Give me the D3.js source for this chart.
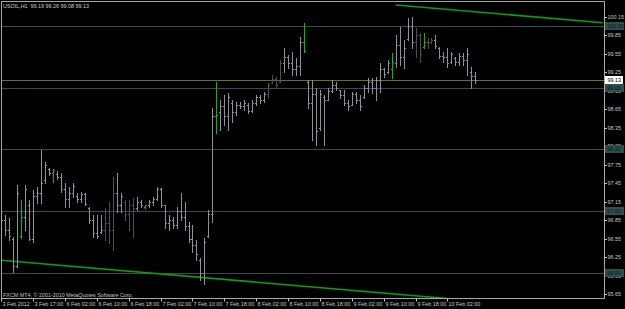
<!DOCTYPE html>
<html>
<head>
<meta charset="utf-8">
<script src="https://cdn.jsdelivr.net/npm/d3@7"></script>
<style>
  html, body { margin: 0; padding: 0; background: #000; }
  svg { display: block; }
  text { font-family: "Liberation Sans", Arial, sans-serif; font-size: 5.4px; white-space: pre; }
</style>
</head>
<body>
<svg id="chart"></svg>
<script>
var d3 = globalThis.d3;

// USOIL H1 bars, 3 Feb 2012 09:00 .. 10 Feb 2012 09:00
const header = "USOIL,H1  99.19 99.26 99.08 99.13";
const copyright = "FXCM MT4, \u00a9 2001-2010 MetaQuotes Software Corp.";

const opens = [96.60,96.85,96.70,96.55,96.10,96.60,96.90,97.10,96.55,97.25,97.30,97.50,97.68,97.62,97.60,97.55,97.35,97.20,97.30,97.25,
  97.20,97.28,97.05,96.85,96.65,96.66,96.70,96.80,96.70,97.30,97.10,97.15,96.95,97.10,97.05,97.15,97.07,97.09,97.15,97.20,
  97.35,97.10,96.80,96.85,96.78,97.00,96.90,96.75,96.55,96.45,96.20,96.00,96.60,96.95,98.55,98.60,98.70,98.55,98.75,98.60,
  98.72,98.70,98.72,98.62,98.76,98.85,98.80,98.90,99.08,99.15,99.10,99.40,99.50,99.40,99.30,99.35,99.75,99.10,98.75,98.90,
  98.35,98.85,98.80,98.95,99.05,98.97,98.88,98.75,98.72,98.90,98.80,98.85,99.00,99.10,99.00,99.12,99.30,99.26,99.30,99.40,
  99.70,99.50,99.80,100.00,99.75,99.85,99.66,99.75,99.75,99.78,99.65,99.52,99.50,99.42,99.48,99.42,99.52,99.45,99.25,99.19];
const highs = [96.97,96.94,96.89,96.58,97.42,97.18,97.42,97.18,97.34,97.39,97.99,97.80,97.70,97.68,97.65,97.62,97.46,97.39,97.46,97.29,
  97.31,97.29,97.07,96.94,96.94,96.94,97.05,97.15,97.55,97.62,97.29,97.18,97.18,97.21,97.23,97.18,97.10,97.18,97.23,97.39,
  97.38,97.10,96.94,96.90,97.07,97.29,97.15,96.82,96.77,96.53,96.24,96.56,97.02,98.67,99.09,98.80,98.88,98.92,98.80,98.77,
  98.77,98.80,98.75,98.80,98.88,98.88,98.93,99.08,99.21,99.18,99.45,99.65,99.53,99.58,99.48,99.83,100.05,99.13,99.13,99.00,
  98.97,98.88,99.00,99.13,99.09,98.97,98.97,98.80,98.93,98.93,98.88,99.05,99.16,99.16,99.18,99.40,99.32,99.45,99.57,99.86,
  99.99,99.78,100.13,100.15,99.97,99.89,99.89,99.81,99.81,99.86,99.66,99.58,99.65,99.58,99.50,99.57,99.57,99.65,99.34,99.26];
const lows = [96.32,96.61,96.53,96.01,96.09,96.56,96.69,96.53,96.50,97.13,97.13,97.46,97.59,97.47,97.52,97.31,97.07,97.07,97.23,97.15,
  97.15,97.10,96.81,96.58,96.56,96.64,96.53,96.48,96.37,96.98,96.98,96.85,96.69,96.58,97.02,97.07,97.05,97.07,97.10,97.18,
  97.07,96.72,96.69,96.72,96.72,96.85,96.69,96.50,96.34,96.21,95.88,95.82,96.58,96.82,98.27,98.32,98.40,98.32,98.45,98.56,
  98.67,98.64,98.59,98.61,98.72,98.75,98.77,98.84,99.08,99.00,99.09,99.26,99.32,99.21,99.21,99.21,99.58,98.67,98.15,98.07,
  98.32,98.07,98.80,98.93,98.97,98.84,98.72,98.64,98.72,98.75,98.64,98.84,98.93,98.92,98.80,98.93,99.18,99.24,99.16,99.34,
  99.37,99.32,99.78,99.65,99.50,99.42,99.65,99.65,99.73,99.65,99.48,99.42,99.34,99.40,99.37,99.37,99.37,99.21,99.00,99.08];
const closes = [96.85,96.70,96.60,96.10,97.30,96.90,97.35,96.55,97.25,97.30,97.45,97.75,97.62,97.66,97.55,97.35,97.20,97.30,97.40,97.20,
  97.28,97.12,96.85,96.65,96.60,96.70,96.80,96.70,97.30,97.10,97.25,96.95,97.10,97.05,97.15,97.10,97.09,97.15,97.20,97.35,
  97.10,96.80,96.85,96.78,97.00,96.90,96.75,96.55,96.45,96.30,96.00,96.50,96.95,98.55,98.56,98.70,98.55,98.85,98.60,98.72,
  98.70,98.75,98.62,98.76,98.85,98.80,98.90,99.05,99.15,99.05,99.40,99.50,99.40,99.30,99.35,99.75,99.60,98.75,98.90,98.30,
  98.90,98.80,98.95,99.05,99.00,98.88,98.75,98.70,98.90,98.80,98.70,99.00,99.10,99.00,99.12,99.30,99.22,99.40,99.42,99.70,
  99.50,99.65,100.00,99.75,99.85,99.55,99.75,99.72,99.78,99.68,99.52,99.50,99.40,99.55,99.42,99.52,99.45,99.55,99.19,99.13];

// bars drawn highlighted / dimmed in the terminal
const markedBars = [5, 13, 36, 54, 76, 98, 106];
const dimBars = [26, 27, 28, 31, 32, 33, 67, 68, 69, 70, 104, 105, 107, 108];

const timeLabels = ["3 Feb 2012", "3 Feb 17:00", "6 Feb 02:00", "6 Feb 10:00", "6 Feb 18:00", "7 Feb 02:00",
  "7 Feb 10:00", "7 Feb 18:00", "8 Feb 02:00", "8 Feb 10:00", "8 Feb 18:00", "9 Feb 02:00", "9 Feb 10:00",
  "9 Feb 18:00", "10 Feb 02:00"];
const barsPerLabel = 8;

const priceTicks = [100.15, 99.85, 99.55, 99.25, 98.95, 98.65, 98.35, 98.05, 97.75, 97.45, 97.15, 96.85, 96.55, 96.25, 95.95, 95.65];
const hLines = [100.00, 99.00, 98.00, 97.00, 96.00];
const bidPrice = 99.13;

// channel trend lines: [barIndex, price] anchors
const upperTrend = [[99, 100.345], [151, 100.056]];
const lowerTrend = [[0, 96.20], [112, 95.58]];

const W = 625, H = 309;
const frame = { left: 1.5, top: 1.5, right: 604.5, bottom: 298.5 };

const svg = d3.select("#chart").attr("width", W).attr("height", H);
svg.append("rect").attr("width", W).attr("height", H).attr("fill", "#000");

const x = d3.scaleLinear().domain([0, 119]).range([1.3, 475.3]);
const y = d3.scaleLinear().domain([95.65, 100.15]).range([294.2, 17.0]);

svg.append("clipPath").attr("id", "plot")
  .append("rect")
  .attr("x", frame.left).attr("y", frame.top)
  .attr("width", frame.right - frame.left).attr("height", frame.bottom - frame.top);

const plot = svg.append("g").attr("clip-path", "url(#plot)");

// horizontal levels
plot.selectAll("line.hl")
  .data(hLines)
  .enter().append("line")
  .attr("class", "hl")
  .attr("x1", frame.left).attr("x2", frame.right)
  .attr("y1", d => Math.round(y(d)) + 0.5).attr("y2", d => Math.round(y(d)) + 0.5)
  .attr("stroke", "#2F4F4F");

// bid line
plot.append("line")
  .attr("x1", frame.left).attr("x2", frame.right)
  .attr("y1", Math.round(y(bidPrice)) + 0.5).attr("y2", Math.round(y(bidPrice)) + 0.5)
  .attr("stroke", "#6e6e1c");

// trend lines
const trendLine = d3.line().x(d => x(d[0])).y(d => y(d[1]));
plot.selectAll("path.trend")
  .data([upperTrend, lowerTrend])
  .enter().append("path")
  .attr("class", "trend")
  .attr("d", trendLine)
  .attr("fill", "none")
  .attr("stroke", "#0aa00a")
  .attr("stroke-width", 1.6);

// OHLC bars
const barColor = (i) => {
  if (markedBars.includes(i)) return "#00c000";
  if (dimBars.includes(i)) return "#4a5058";
  return "#8893a0";
};

const bars = plot.selectAll("g.bar")
  .data(d3.range(opens.length))
  .enter().append("g")
  .attr("class", "bar")
  .attr("fill", barColor)
  .attr("shape-rendering", "crispEdges");

bars.append("rect")
  .attr("x", i => Math.round(x(i)))
  .attr("y", i => Math.round(y(highs[i])))
  .attr("width", 1)
  .attr("height", i => Math.max(1, Math.round(y(lows[i])) - Math.round(y(highs[i])) + 1));
bars.append("rect")
  .attr("x", i => Math.round(x(i)) - 1)
  .attr("y", i => Math.round(y(opens[i])))
  .attr("width", 1).attr("height", 1);
bars.append("rect")
  .attr("x", i => Math.round(x(i)) + 1)
  .attr("y", i => Math.round(y(closes[i])))
  .attr("width", 1).attr("height", 1);

// frame
svg.append("rect")
  .attr("x", frame.left).attr("y", frame.top)
  .attr("width", frame.right - frame.left).attr("height", frame.bottom - frame.top)
  .attr("fill", "none")
  .attr("stroke", "#a8a8a8");

// price axis
const yAxis = svg.append("g");
yAxis.selectAll("line")
  .data(priceTicks)
  .enter().append("line")
  .attr("x1", frame.right).attr("x2", frame.right + 2.5)
  .attr("y1", d => Math.round(y(d)) + 0.5).attr("y2", d => Math.round(y(d)) + 0.5)
  .attr("stroke", "#c0c0c0");
yAxis.selectAll("text")
  .data(priceTicks)
  .enter().append("text")
  .attr("x", 607.5)
  .attr("y", d => y(d) + 2)
  .attr("fill", "#c8c8c8")
  .text(d => d.toFixed(2));

// level labels on the price axis
const levelTags = svg.selectAll("g.tag")
  .data(hLines)
  .enter().append("g")
  .attr("class", "tag")
  .attr("transform", d => "translate(605," + Math.round(y(d)) + ")");
levelTags.append("rect")
  .attr("x", 0).attr("y", -4).attr("width", 19).attr("height", 8)
  .attr("fill", "#2F4F4F");
levelTags.append("text")
  .attr("x", 2).attr("y", 2)
  .attr("fill", "#0c1414")
  .text(d => d.toFixed(2));

const bidTag = svg.append("g").attr("transform", "translate(605," + Math.round(y(bidPrice)) + ")");
bidTag.append("rect")
  .attr("x", 0).attr("y", -4).attr("width", 18).attr("height", 8)
  .attr("fill", "#ffffff");
bidTag.append("text")
  .attr("x", 2.5).attr("y", 2)
  .attr("fill", "#000")
  .text(bidPrice.toFixed(2));

// time axis
const xAxis = svg.append("g");
xAxis.selectAll("line")
  .data(timeLabels)
  .enter().append("line")
  .attr("x1", (d, k) => Math.round(x(k * barsPerLabel)) + 0.5)
  .attr("x2", (d, k) => Math.round(x(k * barsPerLabel)) + 0.5)
  .attr("y1", frame.bottom).attr("y2", frame.bottom + 3)
  .attr("stroke", "#c0c0c0");
xAxis.selectAll("text")
  .data(timeLabels)
  .enter().append("text")
  .attr("x", (d, k) => Math.round(x(k * barsPerLabel)) + 1.5)
  .attr("y", 306)
  .attr("fill", "#c8c8c8")
  .text(d => d);

// header and copyright
svg.append("text").attr("x", 3).attr("y", 7.5).attr("fill", "#d0d0d0").text(header);
svg.append("text").attr("x", 3).attr("y", 296.5).attr("fill", "#c0c0c0").text(copyright);
</script>
</body>
</html>
